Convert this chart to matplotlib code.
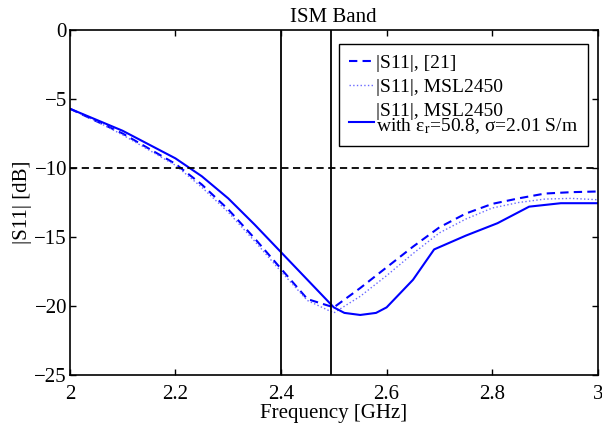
import matplotlib
matplotlib.use("Agg")
import matplotlib.pyplot as plt
from matplotlib.legend_handler import HandlerLine2D

plt.rcParams['font.family'] = ['Liberation Serif', 'DejaVu Serif']
plt.rcParams['mathtext.fontset'] = 'stix'
plt.rcParams['font.size'] = 15

# Data
f_ref = [2.0, 2.05, 2.1, 2.15, 2.2, 2.25, 2.3, 2.35, 2.4, 2.45, 2.5, 2.55,
         2.6, 2.65, 2.7, 2.75, 2.8, 2.85, 2.9, 2.95, 3.0]
s11_ref21 = [-5.7, -6.6, -7.5, -8.6, -9.7, -11.2, -13.0, -15.1, -17.3, -19.5,
             -20.1, -18.7, -17.2, -15.7, -14.3, -13.3, -12.6, -12.2, -11.85,
             -11.75, -11.7]
s11_msl = [-5.7, -6.6, -7.6, -8.7, -9.8, -11.4, -13.2, -15.3, -17.5, -19.6,
           -20.5, -19.3, -17.8, -16.2, -14.7, -13.7, -12.9, -12.5, -12.25,
           -12.2, -12.3]
f_fit = [2.0, 2.05, 2.1, 2.15, 2.2, 2.25, 2.3, 2.35, 2.4, 2.45, 2.5, 2.52,
         2.55, 2.58, 2.6, 2.65, 2.69, 2.75, 2.81, 2.87, 2.93, 3.0]
s11_fit = [-5.7, -6.5, -7.3, -8.3, -9.3, -10.6, -12.2, -14.1, -16.1, -18.1,
           -20.1, -20.5, -20.65, -20.5, -20.1, -18.1, -15.9, -14.9, -14.0,
           -12.8, -12.55, -12.55]
band_edges = [2.4, 2.495]
threshold = -10


class LowLineHandler(HandlerLine2D):
    def create_artists(self, legend, orig_handle, xdescent, ydescent,
                       width, height, fontsize, trans):
        arts = super().create_artists(legend, orig_handle, xdescent, ydescent,
                                      width, height, fontsize, trans)
        for a in arts:
            yd = a.get_ydata()
            a.set_ydata([y - height * 0.22 for y in yd])
        return arts


fig = plt.figure(figsize=(6.02, 4.23), dpi=100)
ax = fig.add_axes([0.116, 0.1135, 0.877, 0.8155])

ax.plot(f_ref, s11_ref21, '--', color='blue', lw=1.5, dashes=(4, 2.5), label='|S11|, [21]')
ax.plot(f_ref, s11_msl, ':', color='#6a6aff', lw=1.0, label='|S11|, MSL2450')
l3, = ax.plot(f_fit, s11_fit, '-', color='blue', lw=1.5,
              label='|S11|, MSL2450\nwith ε${}_{\\rm r}$=50.8, σ=2.01 S/m')
ax.axhline(threshold, color='black', ls='--', lw=1.3, dashes=(4, 2.5))
for e in band_edges:
    ax.axvline(e, color='black', lw=1.3)

ax.set_xlim(2, 3)
ax.set_ylim(-25, 0)
ax.set_xticks([2, 2.2, 2.4, 2.6, 2.8, 3])
ax.set_xticklabels(['2', '2.2', '2.4', '2.6', '2.8', '3'])
ax.set_yticks([0, -5, -10, -15, -20, -25])
ax.set_yticklabels(['0', '\u22125', '\u221210', '\u221215', '\u221220', '\u221225'])
ax.tick_params(direction='in', top=True, right=True, length=4, width=1, labelsize=15)
ax.tick_params(axis='x', pad=7)
ax.tick_params(axis='y', pad=2)
for s in ax.spines.values():
    s.set_linewidth(1.2)

ax.set_title('ISM Band', fontsize=15, pad=6)
ax.set_xlabel('Frequency [GHz]', fontsize=15, labelpad=0)
ax.set_ylabel('|S11| [dB]', fontsize=15, labelpad=2)

leg = ax.legend(loc='upper right', bbox_to_anchor=(0.981, 0.959), fontsize=14,
                frameon=True, fancybox=False, edgecolor='black', framealpha=1,
                handlelength=1.3, handletextpad=0.1, labelspacing=0.35,
                borderpad=0.5, borderaxespad=0,
                handler_map={l3: LowLineHandler()})
leg.get_frame().set_linewidth(1.0)
leg.get_texts()[2].set_linespacing(0.75)

fig.savefig('out.png', dpi=100)
